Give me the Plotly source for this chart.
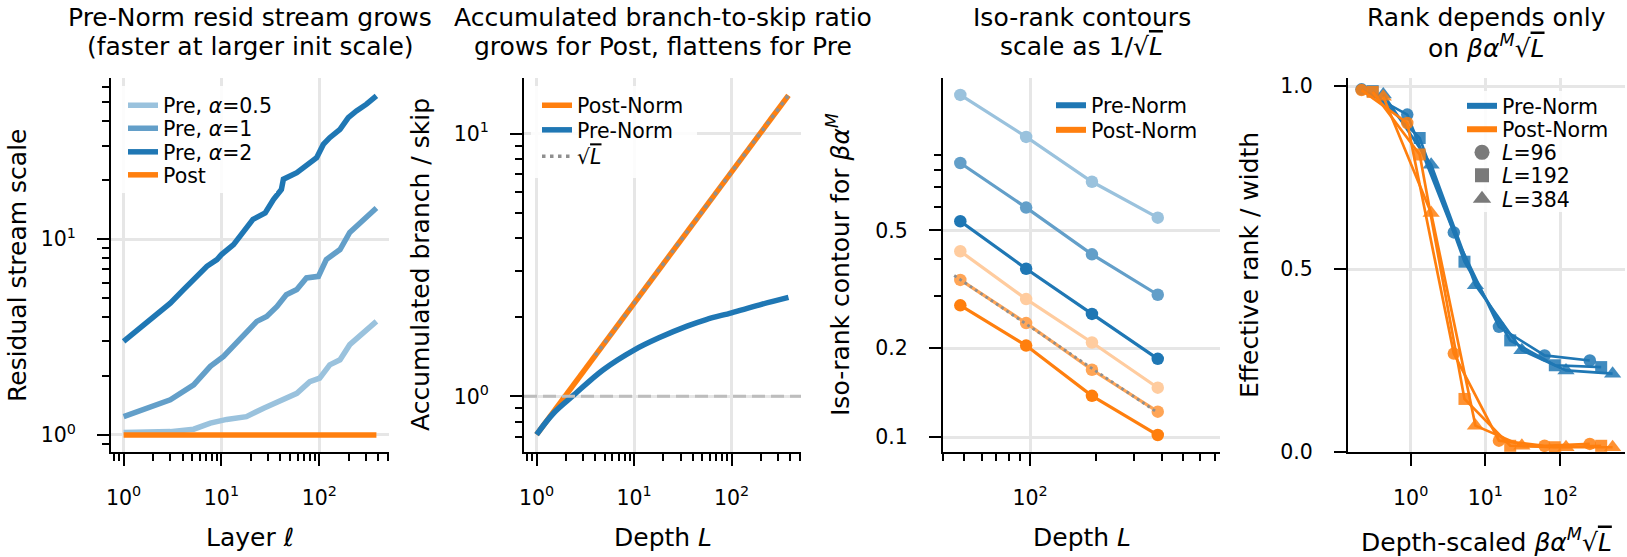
import plotly.graph_objects as go

W, H = 1627, 557
FONT = "DejaVu Sans"

BLUE = "#1f77b4"; BLUE_MID = "#639fc9"; BLUE_LIGHT = "#9ac2dd"
ORANGE = "#ff7f0e"; ORANGE_MID = "#ffa556"; ORANGE_LIGHT = "#ffcc9f"
GRAY_REF = "#8f8f8f"; GRAY_DASH = "#bdbdbd"; GRAY_MARK = "#7a7a7a"

# ---------------- data ----------------
# Panel 1: residual stream scale vs layer
layers_a05 = [1, 3, 5.2, 7.7, 11.3, 18, 27, 43, 59, 80, 101, 128, 163, 205, 281, 384]
scale_a05 = [1.03, 1.04, 1.07, 1.15, 1.20, 1.24, 1.37, 1.51, 1.63, 1.87, 1.95, 2.28, 2.42, 2.89, 3.31, 3.80]
layers_a1 = [1, 1.6, 3, 5.2, 7.1, 7.7, 10.5, 15.5, 23, 29, 37, 46, 59, 74, 98, 118, 163, 205, 260, 384]
scale_a1 = [1.24, 1.34, 1.51, 1.80, 2.11, 2.24, 2.52, 3.06, 3.80, 4.03, 4.53, 5.2, 5.52, 6.33, 6.45, 7.86, 8.84, 10.8, 12.1, 14.4]
layers_a2 = [1, 1.6, 2, 3, 4.1, 5.6, 7.1, 9, 10, 13.3, 16.8, 21, 28, 34, 41, 43, 59, 80, 94, 110, 128, 163, 198, 240, 304, 384]
scale_a2 = [3.0, 3.65, 4.03, 4.71, 5.52, 6.45, 7.26, 7.86, 8.33, 9.37, 10.8, 12.6, 13.6, 15.9, 17.9, 20.2, 21.8, 24.5, 26.0, 30.4, 32.9, 36.3, 41.7, 45.1, 48.8, 53.8]
layers_post = [1, 384]
scale_post = [1.0, 1.0]

# Panel 2: accumulated branch / skip vs depth
depth_post = [1, 2, 3, 5, 7, 10, 20, 50, 100, 200, 384]
ratio_post = [0.715, 1.01, 1.24, 1.62, 1.88, 2.26, 3.2, 5.05, 7.15, 10.1, 14.0]
depth_pre = [1, 1.5, 2.4, 4.8, 10, 18, 35, 55, 100, 195, 384]
ratio_pre = [0.715, 0.864, 1.01, 1.26, 1.5, 1.67, 1.85, 1.96, 2.08, 2.23, 2.38]
depth_sqrt = [4, 384]
ratio_sqrt = [1.43, 14.0]
unity_level = 1.0

# Panel 3: iso-rank contours
iso_depth = [48, 96, 192, 384]
iso_pre_light = [1.435, 1.035, 0.73, 0.552]
iso_pre_mid = [0.845, 0.597, 0.415, 0.303]
iso_pre_dark = [0.537, 0.371, 0.261, 0.184]
iso_post_light = [0.425, 0.293, 0.209, 0.147]
iso_post_mid = [0.340, 0.243, 0.169, 0.122]
iso_post_dark = [0.279, 0.204, 0.138, 0.1017]
iso_ref_depth = [45, 384]
iso_ref_value = [0.352, 0.121]

# Panel 4: effective rank / width vs depth-scaled parameter
scaled_L96 = [0.22, 0.90, 3.78, 15.2, 62, 250]
scaled_L192 = [0.31, 1.32, 5.25, 21.5, 85, 355]
scaled_L384 = [0.43, 1.88, 7.36, 30.8, 120, 505]
rank_pre_L96 = [0.991, 0.922, 0.60, 0.342, 0.264, 0.25]
rank_pre_L192 = [0.986, 0.858, 0.52, 0.305, 0.237, 0.232]
rank_pre_L384 = [0.977, 0.785, 0.456, 0.278, 0.223, 0.214]
rank_post_L96 = [0.989, 0.899, 0.269, 0.031, 0.017, 0.022]
rank_post_L192 = [0.984, 0.813, 0.145, 0.017, 0.013, 0.017]
rank_post_L384 = [0.971, 0.653, 0.072, 0.017, 0.013, 0.013]

# tick labels
log_tick_vals = [1, 10, 100]
log_tick_text = ["10<sup>0</sup>", "10<sup>1</sup>", "10<sup>2</sup>"]

# ---------------- layout geometry (pixels) ----------------
PANELS = {1: (111, 389), 2: (524, 801), 3: (943, 1220), 4: (1348, 1625)}
TOP, BOTTOM = 78, 452
X_RANGES = {1: [-0.129, 2.713], 2: [-0.129, 2.713], 3: [1.602, 2.869], 4: [-0.839, 2.869]}
Y_RANGES = {1: [-0.087, 1.822], 2: [-0.212, 1.212], 3: [-1.05, 0.214], 4: [0, 1.022]}

fig = go.Figure()
legend_layouts = {}
_count = [0]


def new_legend(x_px, yc_px):
    _count[0] += 1
    n = _count[0]
    key = "legend" if n == 1 else f"legend{n}"
    legend_layouts[key] = dict(
        x=x_px / W, y=1 - yc_px / H, xref="paper", yref="paper",
        xanchor="left", yanchor="middle", bgcolor="rgba(0,0,0,0)", borderwidth=0,
        font=dict(family=FONT, size=20.5, color="black"), itemwidth=30, tracegroupgap=0)
    return key


def ax(n):
    return ("x" if n == 1 else f"x{n}"), ("y" if n == 1 else f"y{n}")


def line_trace(n, x, y, color, width, name=None, legend=None, dash=None, shape="linear"):
    xa, ya = ax(n)
    return go.Scatter(x=x, y=y, mode="lines", xaxis=xa, yaxis=ya,
                      line=dict(color=color, width=width, dash=dash, shape=shape),
                      name=name, showlegend=legend is not None, legend=legend or "legend",
                      hoverinfo="skip")


# ---- Panel 1 ----
L1 = [new_legend(123, 105.5), new_legend(123, 128.5), new_legend(123, 152), new_legend(123, 175)]
fig.add_trace(line_trace(1, layers_a05, scale_a05, BLUE_LIGHT, 5.5, "Pre, <i>α</i>=0.5", L1[0]))
fig.add_trace(line_trace(1, layers_a1, scale_a1, BLUE_MID, 5.5, "Pre, <i>α</i>=1", L1[1]))
fig.add_trace(line_trace(1, layers_a2, scale_a2, BLUE, 5.5, "Pre, <i>α</i>=2", L1[2]))
fig.add_trace(line_trace(1, layers_post, scale_post, ORANGE, 5.5, "Post", L1[3]))

# ---- Panel 2 ----
L2 = [new_legend(537, 105.5), new_legend(537, 130), new_legend(537, 156.5)]
fig.add_trace(line_trace(2, depth_post, ratio_post, ORANGE, 5.5, "Post-Norm", L2[0]))
fig.add_trace(line_trace(2, depth_pre, ratio_pre, BLUE, 5.5, "Pre-Norm", L2[1], shape="spline"))
fig.add_trace(line_trace(2, depth_sqrt, ratio_sqrt, GRAY_REF, 3.5,
                         '√<span style="text-decoration:overline"><i>L</i></span>', L2[2], dash="3.5px,4.5px"))
xr2 = X_RANGES[2]
fig.add_trace(line_trace(2, [10 ** xr2[0], 10 ** xr2[1]], [unity_level, unity_level], GRAY_DASH, 3,
                         dash="13px,6px"))

# ---- Panel 3 ----
L3 = [new_legend(1051, 105.5), new_legend(1051, 130)]
for vals, col in [(iso_pre_light, BLUE_LIGHT), (iso_pre_mid, BLUE_MID), (iso_pre_dark, BLUE),
                  (iso_post_light, ORANGE_LIGHT), (iso_post_mid, ORANGE_MID), (iso_post_dark, ORANGE)]:
    fig.add_trace(go.Scatter(x=iso_depth, y=vals, mode="lines+markers", xaxis="x3", yaxis="y3",
                             line=dict(color=col, width=3.2), marker=dict(color=col, size=12.5),
                             showlegend=False, hoverinfo="skip"))
fig.add_trace(line_trace(3, iso_ref_depth, iso_ref_value, GRAY_REF, 2.8, dash="2.8px,3.5px"))
fig.add_trace(line_trace(3, [None], [None], BLUE, 6, "Pre-Norm", L3[0]))
fig.add_trace(line_trace(3, [None], [None], ORANGE, 6, "Post-Norm", L3[1]))

# ---- Panel 4 ----
L4 = [new_legend(1462, 106), new_legend(1462, 129.3), new_legend(1462, 152.5),
      new_legend(1462, 175.5), new_legend(1462, 199)]
series4 = [
    (scaled_L96, rank_pre_L96, BLUE, "circle", 12.5),
    (scaled_L192, rank_pre_L192, BLUE, "square", 12),
    (scaled_L384, rank_pre_L384, BLUE, "triangle-up", 15),
    (scaled_L96, rank_post_L96, ORANGE, "circle", 12.5),
    (scaled_L192, rank_post_L192, ORANGE, "square", 12),
    (scaled_L384, rank_post_L384, ORANGE, "triangle-up", 15),
]
for xs, ys, col, sym, sz in series4:
    fig.add_trace(go.Scatter(x=xs, y=ys, mode="lines+markers", xaxis="x4", yaxis="y4",
                             line=dict(color=col, width=2.7),
                             marker=dict(color=col, symbol=sym, size=sz, opacity=0.85),
                             showlegend=False, hoverinfo="skip"))
fig.add_trace(line_trace(4, [None], [None], BLUE, 6, "Pre-Norm", L4[0]))
fig.add_trace(line_trace(4, [None], [None], ORANGE, 6, "Post-Norm", L4[1]))
for key, sym, sz, nm in [(L4[2], "circle", 15, "<i>L</i>=96"), (L4[3], "square", 14, "<i>L</i>=192"),
                         (L4[4], "triangle-up", 17, "<i>L</i>=384")]:
    fig.add_trace(go.Scatter(x=[None], y=[None], mode="markers", xaxis="x4", yaxis="y4",
                             marker=dict(color=GRAY_MARK, symbol=sym, size=sz), name=nm,
                             showlegend=True, legend=key))

# ---------------- axes ----------------
def base_axis():
    return dict(showline=True, linecolor="black", linewidth=2, ticks="outside", ticklen=12,
                tickwidth=2, tickcolor="black", showgrid=True, gridcolor="#e6e6e6", gridwidth=2.5,
                zeroline=False, mirror=False, tickmode="array", fixedrange=True, automargin=False,
                tickfont=dict(family=FONT, size=20.5, color="black"))


def minor(vals):
    return dict(tickmode="array", tickvals=vals, ticks="outside", ticklen=7, tickwidth=1.6,
                tickcolor="black", showgrid=False)


ydom = [(H - BOTTOM) / H, (H - TOP) / H]
minor_x12 = [0.8, 0.9] + list(range(2, 10)) + list(range(20, 100, 10)) + [200, 300, 400, 500]
axes_cfg = {
    1: (dict(type="log", tickvals=log_tick_vals, ticktext=log_tick_text, minor=minor(minor_x12)),
        dict(type="log", tickvals=[1, 10], ticktext=log_tick_text[:2],
             minor=minor([0.9] + list(range(2, 10)) + [20, 30, 40, 50, 60]))),
    2: (dict(type="log", tickvals=log_tick_vals, ticktext=log_tick_text, minor=minor(minor_x12)),
        dict(type="log", tickvals=[1, 10], ticktext=log_tick_text[:2],
             minor=minor([0.7, 0.8, 0.9] + list(range(2, 10))))),
    3: (dict(type="log", tickvals=[100], ticktext=[log_tick_text[2]],
             minor=minor(list(range(40, 100, 10)) + list(range(200, 800, 100)))),
        dict(type="log", tickvals=[0.1, 0.2, 0.5], ticktext=["0.1", "0.2", "0.5"],
             minor=minor([0.3, 0.4, 0.6, 0.7, 0.8, 0.9]))),
    4: (dict(type="log", tickvals=log_tick_vals, ticktext=log_tick_text),
        dict(type="linear", tickvals=[0, 0.5, 1.0], ticktext=["0.0", "0.5", "1.0"])),
}
layout_axes = {}
for n, (xc, yc) in axes_cfg.items():
    xa = base_axis(); xa.update(xc)
    ya = base_axis(); ya.update(yc)
    l, r = PANELS[n]
    xa.update(domain=[l / W, r / W], range=X_RANGES[n], anchor=ax(n)[1], ticklabelstandoff=14)
    ya.update(domain=ydom, range=Y_RANGES[n], anchor=ax(n)[0], ticklabelstandoff=17)
    layout_axes["xaxis" if n == 1 else f"xaxis{n}"] = xa
    layout_axes["yaxis" if n == 1 else f"yaxis{n}"] = ya

# ---------------- text ----------------
SQRT_L = '√<span style="text-decoration:overline"><i>L</i></span>'
BAM = "<i>βα</i><sup><i>M</i></sup>"
titles = {
    1: ("Pre-Norm resid stream grows", "(faster at larger init scale)"),
    2: ("Accumulated branch-to-skip ratio", "grows for Post, flattens for Pre"),
    3: ("Iso-rank contours", "scale as 1/" + SQRT_L),
    4: ("Rank depends only", "on " + BAM + SQRT_L),
}
xlabels = {1: ("Layer <i>ℓ</i>", 537), 2: ("Depth <i>L</i>", 537), 3: ("Depth <i>L</i>", 537),
           4: ("Depth-scaled " + BAM + SQRT_L, 540)}
ylabels = {1: ("Residual stream scale", 17), 2: ("Accumulated branch / skip", 420),
           3: ("Iso-rank contour for " + BAM, 838), 4: ("Effective rank / width", 1249)}

annotations = []
for n, (l1, l2) in titles.items():
    cx = (PANELS[n][0] + PANELS[n][1]) / 2 / W
    for txt, yc in [(l1, 18), (l2, 46.5)]:
        annotations.append(dict(text=txt, x=cx, y=1 - yc / H, xref="paper", yref="paper",
                                xanchor="center", yanchor="middle", showarrow=False,
                                font=dict(family=FONT, size=25, color="black")))
    txt, yc = xlabels[n]
    annotations.append(dict(text=txt, x=cx, y=1 - yc / H, xref="paper", yref="paper",
                            xanchor="center", yanchor="middle", showarrow=False,
                            font=dict(family=FONT, size=25, color="black")))
    txt, xc = ylabels[n]
    annotations.append(dict(text=txt, x=xc / W, y=1 - (TOP + BOTTOM) / 2 / H, xref="paper", yref="paper",
                            xanchor="center", yanchor="middle", showarrow=False, textangle=-90,
                            font=dict(family=FONT, size=25, color="black")))

# legend background boxes (white, semi-opaque, under the legend text)
def box(x0, x1, y0, y1):
    return dict(type="rect", xref="paper", yref="paper",
                x0=x0 / W, x1=x1 / W, y0=1 - y1 / H, y1=1 - y0 / H,
                fillcolor="rgba(255,255,255,0.85)", line=dict(width=0), layer="above")

shapes = [box(119, 276, 86, 193), box(531, 697, 86, 178),
          box(1048, 1205, 88, 145), box(1459, 1620, 91, 212)]

fig.update_layout(width=W, height=H, margin=dict(l=0, r=0, t=0, b=0, autoexpand=False),
                  paper_bgcolor="white", plot_bgcolor="white",
                  font=dict(family=FONT, color="black"), showlegend=True,
                  annotations=annotations, shapes=shapes, **layout_axes, **legend_layouts)

fig.write_html("out.html")
